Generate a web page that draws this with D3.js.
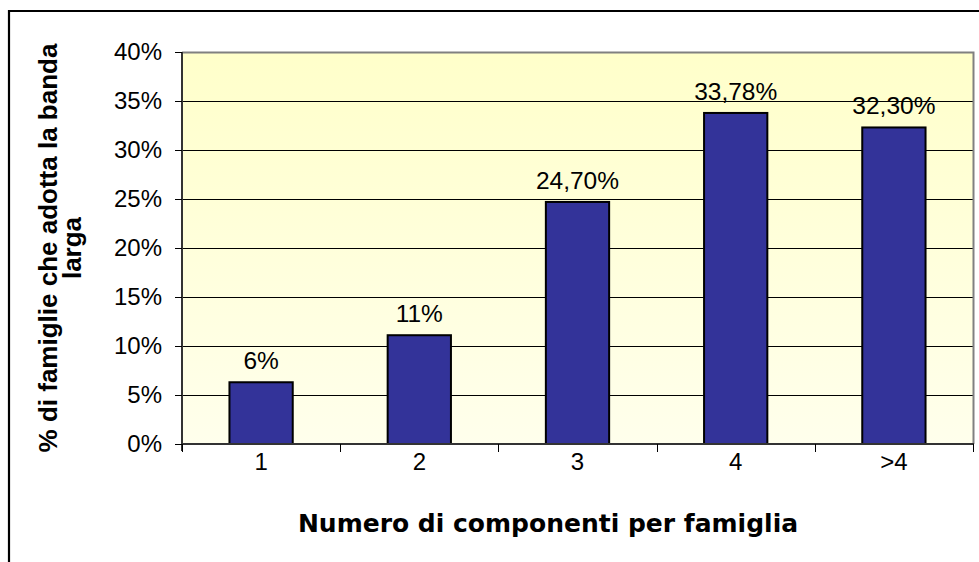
<!DOCTYPE html>
<html>
<head>
<meta charset="utf-8">
<script src="https://cdn.jsdelivr.net/npm/d3@7"></script>
<style>
  html, body { margin: 0; padding: 0; background: #fff; }
  svg { display: block; }
</style>
</head>
<body>
<svg id="chart" width="979" height="562"></svg>
<script>
// ---- data ----
const categories = ["1", "2", "3", "4", ">4"];
const values = [6.3, 11.1, 24.7, 33.78, 32.3];
const valueLabels = ["6%", "11%", "24,70%", "33,78%", "32,30%"];
const yTicks = [0, 5, 10, 15, 20, 25, 30, 35, 40];
const yTitleLines = ["% di famiglie che adotta la banda", "larga"];
const xTitle = "Numero di componenti per famiglia";

// ---- layout ----
const W = 979, H = 562;
const plot = { left: 182, right: 973, top: 52, bottom: 444 };

const svg = d3.select("#chart");

// background gradient for plot area
const defs = svg.append("defs");
const grad = defs.append("linearGradient")
  .attr("id", "plotBg").attr("x1", 0).attr("y1", 0).attr("x2", 0).attr("y2", 1);
grad.append("stop").attr("offset", "0%").attr("stop-color", "#FFFFCA");
grad.append("stop").attr("offset", "100%").attr("stop-color", "#FFFFEC");

// outer frame (top + left)
svg.append("path")
  .attr("d", `M9,${H} L9,11 L${W},11`)
  .attr("fill", "none").attr("stroke", "#000").attr("stroke-width", 2.2);

const x = d3.scaleBand().domain(categories)
  .range([plot.left, plot.right]).paddingInner(0.6).paddingOuter(0.3);
const xTickScale = d3.scaleBand().domain(categories)
  .range([plot.left, plot.right]).padding(0);
const y = d3.scaleLinear().domain([0, 40]).range([plot.bottom, plot.top]);

// plot background
svg.append("rect")
  .attr("x", plot.left).attr("y", plot.top)
  .attr("width", plot.right - plot.left).attr("height", plot.bottom - plot.top)
  .attr("fill", "url(#plotBg)");

// gridlines
svg.append("g").selectAll("line")
  .data(yTicks.filter(d => d > 0 && d < 40))
  .join("line")
  .attr("x1", plot.left).attr("x2", plot.right)
  .attr("y1", d => Math.round(y(d)) + 0.5).attr("y2", d => Math.round(y(d)) + 0.5)
  .attr("stroke", "#000").attr("stroke-width", 1);

// plot border (top + right) gray
svg.append("path")
  .attr("d", `M${plot.left},${plot.top + 0.5} L${plot.right + 0.5},${plot.top + 0.5} L${plot.right + 0.5},${plot.bottom}`)
  .attr("fill", "none").attr("stroke", "#808080").attr("stroke-width", 2);

// bars
svg.append("g").selectAll("rect")
  .data(values)
  .join("rect")
  .attr("x", (d, i) => x(categories[i]))
  .attr("y", d => y(d))
  .attr("width", x.bandwidth())
  .attr("height", d => plot.bottom - y(d))
  .attr("fill", "#333399")
  .attr("stroke", "#000")
  .attr("stroke-width", 2);

// value labels
svg.append("g").selectAll("text")
  .data(values)
  .join("text")
  .attr("x", (d, i) => x(categories[i]) + x.bandwidth() / 2)
  .attr("y", d => y(d) - 13)
  .attr("text-anchor", "middle")
  .attr("font-family", "'Liberation Sans', Arial, sans-serif")
  .attr("font-size", 24.5)
  .attr("fill", "#000")
  .text((d, i) => valueLabels[i]);

// y axis
const yAxis = d3.axisLeft(y).tickValues(yTicks).tickFormat(d => d + "%")
  .tickSize(7).tickPadding(13);
const gy = svg.append("g")
  .attr("transform", `translate(${plot.left},0)`)
  .call(yAxis);
gy.select(".domain").attr("stroke", "#333").attr("stroke-width", 2)
  .attr("d", `M0,${plot.top}V${plot.bottom + 7}`);
gy.selectAll(".tick line").attr("stroke", "#000").attr("stroke-width", 1);
gy.selectAll(".tick text")
  .attr("font-family", "'Liberation Sans', Arial, sans-serif")
  .attr("font-size", 24).attr("fill", "#000");

// x axis
const xAxis = d3.axisBottom(xTickScale).tickSize(0).tickPadding(9);
const gx = svg.append("g")
  .attr("transform", `translate(0,${plot.bottom})`)
  .call(xAxis);
gx.select(".domain").attr("stroke", "#333").attr("stroke-width", 2)
  .attr("d", `M${plot.left},0H${plot.right + 1}`);
gx.selectAll(".tick text")
  .attr("font-family", "'Liberation Sans', Arial, sans-serif")
  .attr("font-size", 24).attr("fill", "#000");
// x ticks at category boundaries
const boundaries = categories.map(c => xTickScale(c)).concat([plot.right]);
gx.append("g").selectAll("line")
  .data(boundaries)
  .join("line")
  .attr("x1", d => Math.round(d) + 0.5).attr("x2", d => Math.round(d) + 0.5)
  .attr("y1", 0).attr("y2", 8)
  .attr("stroke", "#000").attr("stroke-width", 1);

// x title
svg.append("text")
  .attr("x", 548).attr("y", 532)
  .attr("text-anchor", "middle")
  .attr("font-family", "'DejaVu Sans', Verdana, sans-serif")
  .attr("font-weight", "bold")
  .attr("font-size", 25)
  .attr("fill", "#000")
  .text(xTitle);

// y title (rotated, two lines)
const yt = svg.append("text")
  .attr("transform", `translate(57,248) rotate(-90)`)
  .attr("text-anchor", "middle")
  .attr("font-family", "'Liberation Sans', Arial, sans-serif")
  .attr("font-weight", "bold")
  .attr("font-size", 26)
  .attr("fill", "#000");
yt.selectAll("tspan").data(yTitleLines).join("tspan")
  .attr("x", 0).attr("dy", (d, i) => i === 0 ? 0 : 24)
  .text(d => d);
</script>
</body>
</html>
